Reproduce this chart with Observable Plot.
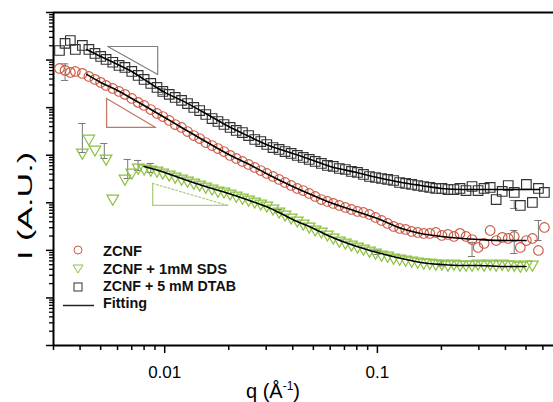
<!DOCTYPE html>
<html><head><meta charset="utf-8">
<script src="https://cdn.jsdelivr.net/npm/d3@7"></script>
<script src="https://cdn.jsdelivr.net/npm/@observablehq/plot@0.6"></script>
<style>
body{margin:0;background:#fff;}
#wrap{position:relative;width:553px;height:402px;overflow:hidden;}
</style></head><body><div id="wrap"></div>
<script>
// scattering vector q (1/Å) shared grid
const q = [0.0032,0.0034,0.0036,0.0038,0.0041,0.0044,0.0047,0.0050,0.0053,0.0057,
0.0061,0.0065,0.0070,0.0075,0.0080,0.0086,0.0092,0.0098,0.0105,0.0112,
0.0120,0.0128,0.0137,0.0146,0.0156,0.0167,0.0178,0.0190,0.0203,0.0217,
0.0232,0.0248,0.0265,0.0283,0.0302,0.0323,0.0345,0.0368,0.0393,0.0420,
0.0448,0.0478,0.0510,0.0545,0.0582,0.0620,0.0662,0.0707,0.0755,0.0806,
0.0860,0.0918,0.0980,0.1046,0.1117,0.1192,0.1272,0.1358,0.1450,0.1548,
0.1652,0.1764,0.1883,0.2010,0.2146,0.2290,0.2445,0.2610,0.2786,0.2974,
0.3175,0.3390,0.3618,0.3862,0.4123,0.4400,0.4700,0.5017,0.5355,0.5717,0.6100];

const iDTAB = [1590,2240,2580,1670,2030,1670,1380,1190,1030,900,
770,700,577,475,392,323,266,219,190,164,
142,122,101,87,71.8,59,51.1,44.2,38.3,33.1,
30.0,25.9,21.4,19.4,16.8,14.5,13.2,11.96,10.9,9.9,
8.96,8.14,7.39,6.71,6.09,5.80,5.26,5.01,4.55,4.34,
3.94,3.57,3.40,3.24,3.09,2.94,2.67,2.55,2.43,2.31,
2.20,2.10,2.00,2.00,1.90,1.90,2.00,1.81,2.20,1.81,
2.00,2.10,1.17,1.73,2.31,1.65,0.879,2.43,1.015,2.00,1.65];

const iZCNF = [667,607,550,577,524,453,392,339,293,253,
219,190,156,129,111,91.2,75.4,65.1,53.7,44.2,
38.3,31.5,25.9,22.4,18.5,16.0,13.8,11.96,9.9,8.53,
7.39,6.38,5.52,4.77,4.13,3.57,3.09,2.67,2.31,2.00,
1.81,1.57,1.36,1.17,1.065,0.970,0.879,0.797,0.724,0.657,
0.626,0.568,0.491,0.425,0.368,0.318,0.289,0.275,0.250,0.238,
0.227,0.227,0.238,0.206,0.216,0.196,0.227,0.196,0.169,0.115,
0.140,0.262,0.161,0.187,0.178,0.196,0.115,0.161,0.178,0.0995,0.303];

const iSDS = [null,null,null,null,11.4,22.4,13.2,null,8.53,1.23,
null,3.24,4.34,5.52,5.26,5.01,4.77,4.34,3.94,3.57,
3.24,2.94,2.67,2.43,2.20,2.00,1.81,1.73,1.57,1.42,
1.29,1.17,1.065,0.970,0.879,0.760,0.657,0.568,0.491,0.425,
0.368,0.318,0.275,0.250,0.216,0.187,0.161,0.147,0.133,0.121,
0.110,0.0990,0.0901,0.0817,0.0778,0.0706,0.0673,0.0641,0.0611,0.0582,
0.0555,0.0555,0.0529,0.0529,0.0504,0.0529,0.0504,0.0504,0.0504,0.0529,
0.0504,0.0529,0.0504,0.0529,0.0504,0.0504,0.0480,0.0504,0.0504,null,null];

// fitted curves
const fitQ = [0.0043,0.005,0.006,0.007,0.008,0.01,0.012,0.015,0.02,0.025,0.03,0.04,
0.05,0.06,0.08,0.1,0.13,0.16,0.2,0.25,0.3,0.4,0.5,0.58];
const fitDTAB = [1670,1190,809,577,392,209,142,82.9,40.1,24.7,16.8,10.9,
7.76,5.80,4.34,3.40,2.67,2.31,2.00,1.90,1.90,1.90,1.90,1.90];
const fitZCNF = [499,339,230,156,111,62.0,38.3,21.4,10.35,6.38,4.13,2.20,
1.42,1.015,0.657,0.468,0.289,0.227,0.196,0.178,0.169,0.161,0.161,null];
const fitSDS = [null,null,null,null,5.80,4.34,3.24,2.31,1.57,1.118,0.838,0.446,
0.289,0.196,0.121,0.0901,0.0673,0.0555,0.0504,0.0480,0.0480,0.0457,0.0457,null];

// error bars
const errQ  = [0.0034,0.0041,0.0052,0.0067,0.0075,0.0086,0.0098,0.0345,0.2786,0.44,0.5717,0.44,0.2,0.1];
const errLo = [373,11.4,8.53,3.24,4.77,4.34,190,0.62,0.0741,0.0857,0.161,0.760,0.047,0.082];
const errHi = [833,46.4,17.6,8.14,7.76,6.71,250,0.72,0.147,0.262,0.425,1.118,0.060,0.100];

// slope triangles
const triGrayQ = [0.0054,0.00927,0.00927,0.0054];
const triGrayI = [1930,1930,499,1930];
const triRedQ  = [0.00533,0.00533,0.00907,0.00533];
const triRedI  = [156,38.3,38.3,156];
const triGreenQ = [0.00878,0.00878,0.0198];
const triGreenI = [2.55,0.879,0.879];
const triGreenHypQ = [0.00878,0.0198];
const triGreenHypI = [2.55,0.879];

// axis ticks
const xMajor = [0.01, 0.1];
const xMinor = [0.003,0.004,0.005,0.006,0.007,0.008,0.009,0.02,0.03,0.04,0.05,0.06,0.07,0.08,0.09,0.2,0.3,0.4,0.5,0.6];
const yMajor = [1e-3,1e-2,1e-1,1,10,100,1000,10000];
const yMinor = yMajor.slice(0,-1).flatMap(d => [2,3,4,5,6,7,8,9].map(k => k*d));

const legendLabels = ["ZCNF","ZCNF + 1mM SDS","ZCNF + 5 mM DTAB","Fitting"];

const RED = "#cc5a44", GREEN = "#8cc040", DARK = "#333333";

const rows = (xs, ys) => xs.map((qq,i)=>({q:qq, I:ys[i]})).filter(d => d.I != null);
const errRows = errQ.map((qq,i)=>({q:qq, lo:errLo[i], hi:errHi[i]}));

const triDown = {
  draw(ctx, size) {
    const s = Math.sqrt(4*size/Math.sqrt(3));
    const h = Math.sqrt(3)/2*s;
    ctx.moveTo(-s/2, -h/3);
    ctx.lineTo(s/2, -h/3);
    ctx.lineTo(0, 2*h/3);
    ctx.closePath();
  }
};

const chart = Plot.plot({
  width: 553, height: 402,
  marginLeft: 53, marginRight: 0, marginTop: 12, marginBottom: 57,
  x: {type: "log", domain: [0.003, 0.673]},
  y: {type: "log", domain: [1e-3, 1e4]},
  style: {fontFamily: "'Liberation Sans', Arial, sans-serif", background: "white", color: "black"},
  marks: [
    Plot.axisX({ticks: xMinor, tickSize: 5, tickFormat: () => "", strokeWidth: 1.5, label: null}),
    Plot.axisX({ticks: xMajor, tickSize: 8, tickPadding: 12, fontSize: 17, tickFormat: d => String(d), strokeWidth: 1.5, label: null}),
    Plot.axisY({ticks: yMinor, tickSize: 4, tickFormat: () => "", strokeWidth: 1.3, label: null}),
    Plot.axisY({ticks: yMajor, tickSize: 7, tickFormat: () => "", strokeWidth: 1.5, label: null}),
    Plot.ruleX([0.003], {strokeWidth: 2}),
    Plot.ruleY([1e-3], {strokeWidth: 2}),
    Plot.ruleY([1e4], {strokeWidth: 2}),
    // slope triangles
    Plot.line(rows(triGrayQ, triGrayI), {x: "q", y: "I", stroke: "#808080", strokeWidth: 1.2}),
    Plot.line(rows(triRedQ, triRedI), {x: "q", y: "I", stroke: "#c07868", strokeWidth: 1.3}),
    Plot.line(rows(triGreenQ, triGreenI), {x: "q", y: "I", stroke: "#a8d080", strokeWidth: 1.3}),
    Plot.line(rows(triGreenHypQ, triGreenHypI), {x: "q", y: "I", stroke: "#a8d080", strokeWidth: 1.2, strokeDasharray: "2,2"}),
    // error bars
    Plot.ruleX(errRows, {x: "q", y1: "lo", y2: "hi", stroke: "#777", strokeWidth: 1}),
    Plot.ruleY(errRows, {y: "lo", x1: d => d.q/1.04, x2: d => d.q*1.04, stroke: "#777", strokeWidth: 1}),
    Plot.ruleY(errRows, {y: "hi", x1: d => d.q/1.04, x2: d => d.q*1.04, stroke: "#777", strokeWidth: 1}),
    // data
    Plot.dot(rows(q, iDTAB), {x: "q", y: "I", symbol: "square", r: 5.4, stroke: DARK, strokeWidth: 1.15, fill: "none"}),
    Plot.dot(rows(q, iZCNF), {x: "q", y: "I", r: 4.8, stroke: RED, strokeWidth: 1.15, fill: "none"}),
    Plot.dot(rows(q, iSDS), {x: "q", y: "I", symbol: triDown, r: 4.3, stroke: GREEN, strokeWidth: 1.2, fill: "none"}),
    // fits
    Plot.line(rows(fitQ, fitDTAB), {x: "q", y: "I", stroke: "black", strokeWidth: 1.6, curve: "monotone-x"}),
    Plot.line(rows(fitQ, fitZCNF), {x: "q", y: "I", stroke: "black", strokeWidth: 1.6, curve: "monotone-x"}),
    Plot.line(rows(fitQ, fitSDS), {x: "q", y: "I", stroke: "black", strokeWidth: 1.6, curve: "monotone-x"})
  ]
});

document.getElementById("wrap").appendChild(chart);

// overlay: titles and legend
const svg = d3.select(chart);
const ff = "'Liberation Sans', Arial, sans-serif";
svg.append("text").attr("transform", "translate(32,206) rotate(-90)")
  .attr("text-anchor", "middle").attr("font-family", ff).attr("font-size", 21)
  .attr("textLength", 108).attr("lengthAdjust", "spacingAndGlyphs")
  .attr("fill", "black").text("I (A.U.)");
const xt = svg.append("text").attr("x", 273).attr("y", 398).attr("text-anchor", "middle")
  .attr("font-family", ff).attr("font-size", 20).attr("fill", "black");
xt.append("tspan").text("q (Å");
xt.append("tspan").attr("font-size", 12).attr("dy", -8).text("-1");
xt.append("tspan").attr("dy", 8).text(")");

const lg = svg.append("g").attr("text-anchor", "start");
const ys = [255.5, 273.5, 291, 307.5];
const lens = [39, 124, 133, 44];
legendLabels.forEach((t, i) => {
  lg.append("text").attr("x", 103).attr("y", ys[i]).attr("font-family", ff)
    .attr("text-anchor", "start")
    .attr("font-size", 14).attr("font-weight", "bold").attr("fill", "#111")
    .attr("textLength", lens[i]).attr("lengthAdjust", "spacingAndGlyphs").text(t);
});
lg.append("circle").attr("cx", 78).attr("cy", 250).attr("r", 4).attr("fill", "none").attr("stroke", RED);
lg.append("path").attr("d", "M73,265 L83,265 L78,273 Z").attr("fill", "none").attr("stroke", GREEN);
lg.append("rect").attr("x", 74).attr("y", 283).attr("width", 8).attr("height", 8).attr("fill", "none").attr("stroke", DARK);
lg.append("line").attr("x1", 63).attr("x2", 94).attr("y1", 305.5).attr("y2", 305.5).attr("stroke", "#222").attr("stroke-width", 1.5);
</script>
</body></html>
